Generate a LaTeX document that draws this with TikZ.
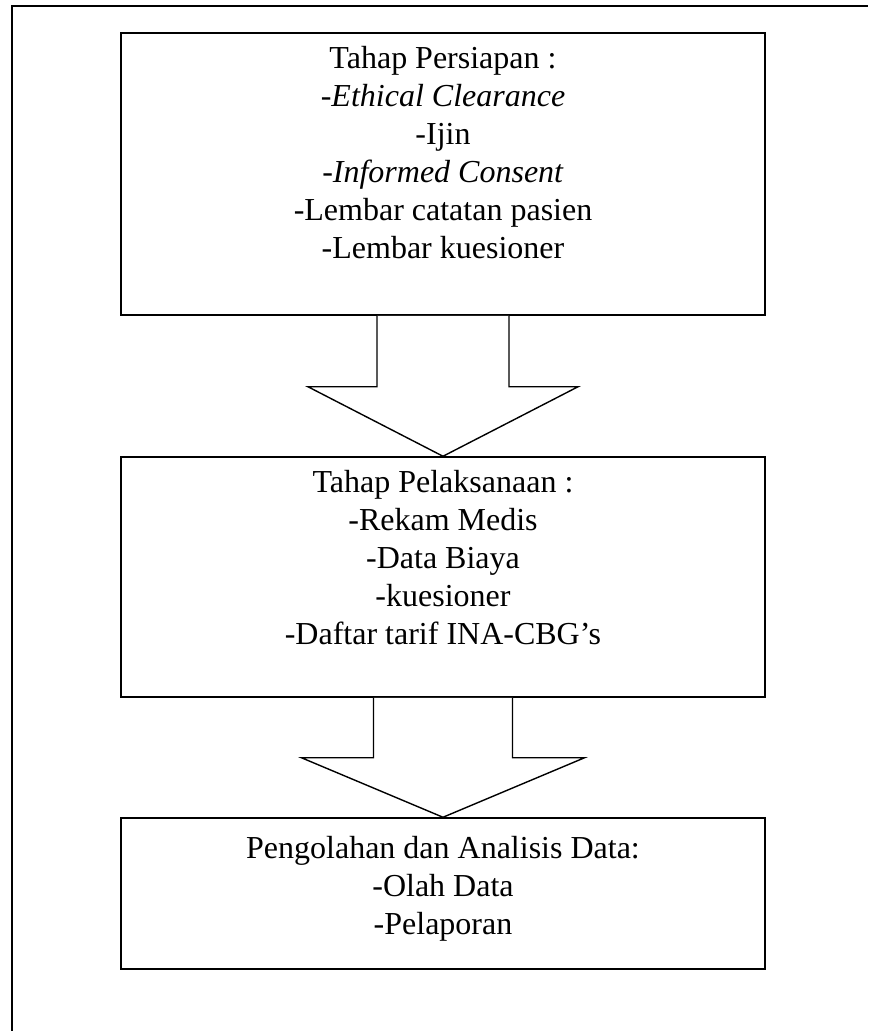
\documentclass[tikz,border=0pt]{standalone}
\usepackage{fontspec}
\setmainfont{Liberation Serif}
\usetikzlibrary{calc}
\begin{document}
\begin{tikzpicture}[x=1pt,y=-1pt,
  stagebox/.style={draw=black,line width=1.5pt,fill=white,inner sep=0pt},
  txt/.style={anchor=base,inner sep=0pt,font=\fontsize{32}{38}\selectfont},
  arrowline/.style={draw=black,line width=1.4pt,line join=miter}]
\useasboundingbox (0,0) rectangle (868,1031);
% outer frame (only top and left edges visible)
\coordinate (fbl) at (12,1031);
\coordinate (ftl) at (12,6);
\coordinate (ftr) at (868,6);
\draw[line width=1.3pt] (fbl) -- (ftl) -- (ftr);
% boxes
\node[stagebox,minimum width=644pt,minimum height=282pt] (b1) at (443,174) {};
\node[stagebox,minimum width=644pt,minimum height=240pt] (b2) at (443,577) {};
\node[stagebox,minimum width=644pt,minimum height=151pt] (b3) at (443,893.5) {};
% texts box 1
\node[txt] (t11) at (443,68) {Tahap Persiapan :};
\node[txt] (t12) at (443,106) {-\textit{Ethical Clearance}};
\node[txt] (t13) at (443,144) {-Ijin};
\node[txt] (t14) at (443,182) {-\textit{Informed Consent}};
\node[txt] (t15) at (443,220) {-Lembar catatan pasien};
\node[txt] (t16) at (443,258) {-Lembar kuesioner};
% texts box 2
\node[txt] (t21) at (443,492) {Tahap Pelaksanaan :};
\node[txt] (t22) at (443,530) {-Rekam Medis};
\node[txt] (t23) at (443,568) {-Data Biaya};
\node[txt] (t24) at (443,606) {-kuesioner};
\node[txt] (t25) at (443,644) {-Daftar tarif INA-CBG’s};
% texts box 3
\node[txt] (t31) at (443,858) {Pengolahan dan Analisis Data:};
\node[txt] (t32) at (443,896) {-Olah Data};
\node[txt] (t33) at (443,934) {-Pelaporan};
% block arrow 1
\coordinate (a1sl) at ($(b1.south)+(-66,0)$);
\coordinate (a1sr) at ($(b1.south)+(66,0)$);
\coordinate (a1bl) at ($(b1.south)+(-66,71)$);
\coordinate (a1br) at ($(b1.south)+(66,71)$);
\coordinate (a1hl) at ($(b1.south)+(-135,71)$);
\coordinate (a1hr) at ($(b1.south)+(135,71)$);
\fill[white] (a1sl) -- (a1bl) -- (a1hl) -- (b2.north) -- (a1hr) -- (a1br) -- (a1sr) -- cycle;
\draw[arrowline] (a1sl) -- (a1bl) -- (a1hl) -- (b2.north) -- (a1hr) -- (a1br) -- (a1sr);
% block arrow 2
\coordinate (a2sl) at ($(b2.south)+(-69.5,0)$);
\coordinate (a2sr) at ($(b2.south)+(69.5,0)$);
\coordinate (a2bl) at ($(b2.south)+(-69.5,60)$);
\coordinate (a2br) at ($(b2.south)+(69.5,60)$);
\coordinate (a2hl) at ($(b2.south)+(-141.5,60)$);
\coordinate (a2hr) at ($(b2.south)+(141.5,60)$);
\fill[white] (a2sl) -- (a2bl) -- (a2hl) -- (b3.north) -- (a2hr) -- (a2br) -- (a2sr) -- cycle;
\draw[arrowline] (a2sl) -- (a2bl) -- (a2hl) -- (b3.north) -- (a2hr) -- (a2br) -- (a2sr);
\end{tikzpicture}
\end{document}
